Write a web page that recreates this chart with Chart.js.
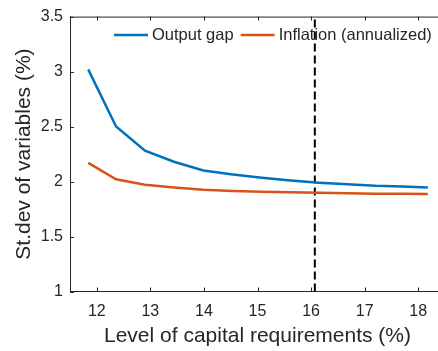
<!DOCTYPE html>
<html>
<head>
<meta charset="utf-8">
<script src="https://cdn.jsdelivr.net/npm/chart.js@4.4.0/dist/chart.umd.min.js"></script>
<style>
  body { margin: 0; overflow: hidden; background: #fff; }
</style>
</head>
<body>
<canvas id="myChart" width="445" height="351"></canvas>
<script>
// capital requirements (%)
const capital = [11.84, 12.36, 12.9, 13.44, 13.99, 14.54, 15.08, 15.62, 16.15, 16.68, 17.2, 17.7, 18.18]
const outputGap = [3.02, 2.50, 2.28, 2.18, 2.10, 2.065, 2.035, 2.01, 1.99, 1.975, 1.962, 1.955, 1.946]
const inflation = [2.17, 2.02, 1.97, 1.945, 1.925, 1.915, 1.907, 1.902, 1.897, 1.893, 1.89, 1.888, 1.886]
const seriesNames = ['Output gap', 'Inflation (annualized)']
const seriesColors = ['#0072BD', '#D95319']
const vlineX = [16.07]
const xTicks = [12, 13, 14, 15, 16, 17, 18]
const yTicks = [1, 1.5, 2, 2.5, 3, 3.5]

const txt = '#262626'
const font = 'Liberation Sans, Arial, Helvetica, sans-serif'

let puntos = function (xs, ys) {
    return xs.map((x, i) => ({ x: x, y: ys[i] }))
}

// MATLAB style box with inward ticks + legend inside the axes
const cajaPlugin = {
    id: 'caja',
    afterDraw(chart) {
        const ctx = chart.ctx
        const a = chart.chartArea
        const sx = chart.scales.x
        const sy = chart.scales.y
        ctx.save()
        ctx.strokeStyle = txt
        ctx.lineWidth = 1
        ctx.beginPath()
        ctx.moveTo(a.left, a.top + 0.5)
        ctx.lineTo(a.right, a.top + 0.5)
        ctx.moveTo(a.right - 0.5, a.top)
        ctx.lineTo(a.right - 0.5, a.bottom)
        xTicks.forEach(v => {
            let px = Math.round(sx.getPixelForValue(v)) + 0.5
            ctx.moveTo(px, a.bottom)
            ctx.lineTo(px, a.bottom - 4)
            ctx.moveTo(px, a.top)
            ctx.lineTo(px, a.top + 4)
        })
        yTicks.forEach(v => {
            let py = Math.round(sy.getPixelForValue(v)) + 0.5
            ctx.moveTo(a.left, py)
            ctx.lineTo(a.left + 4, py)
            ctx.moveTo(a.right, py)
            ctx.lineTo(a.right - 4, py)
        })
        ctx.stroke()

        // legend
        ctx.font = '16.5px ' + font
        ctx.textBaseline = 'middle'
        ctx.fillStyle = txt
        let x = 114
        let y = 35
        seriesNames.forEach((name, i) => {
            ctx.strokeStyle = seriesColors[i]
            ctx.lineWidth = 2.5
            ctx.beginPath()
            ctx.moveTo(x, y)
            ctx.lineTo(x + 34, y)
            ctx.stroke()
            ctx.fillText(name, x + 38, y)
            x = x + 38 + ctx.measureText(name).width + 7
        })
        ctx.restore()
    }
}

const data = {
    datasets: [{
        label: seriesNames[0],
        data: puntos(capital, outputGap),
        borderColor: seriesColors[0],
        borderWidth: 2.5,
        pointRadius: 0,
        tension: 0
    }, {
        label: seriesNames[1],
        data: puntos(capital, inflation),
        borderColor: seriesColors[1],
        borderWidth: 2.5,
        pointRadius: 0,
        tension: 0
    }, {
        label: 'vline',
        data: [{ x: vlineX[0], y: yTicks[0] }, { x: vlineX[0], y: yTicks[yTicks.length - 1] }],
        borderColor: '#000',
        borderWidth: 2,
        borderDash: [8, 4],
        pointRadius: 0
    }]
}

let miGrafico = new Chart('myChart', {
    type: 'line',
    data: data,
    plugins: [cajaPlugin],
    options: {
        responsive: false,
        animation: false,
        layout: { padding: { left: 0, right: 0, top: 11, bottom: 0 } },
        plugins: { legend: { display: false }, tooltip: { enabled: false } },
        scales: {
            x: {
                type: 'linear',
                min: 11.5,
                max: 18.5,
                afterBuildTicks: s => { s.ticks = xTicks.map(v => ({ value: v })) },
                afterFit: s => { s.height = 59.5 },
                grid: { display: false, drawTicks: false },
                border: { display: true, color: txt, width: 1 },
                ticks: { color: txt, font: { family: font, size: 16 }, padding: 10, maxRotation: 0 },
                title: { display: true, text: 'Level of capital requirements (%)', color: txt,
                    font: { family: font, size: 21 }, padding: { top: 0, bottom: 2 } }
            },
            y: {
                min: 1,
                max: 3.5,
                afterBuildTicks: s => { s.ticks = yTicks.map(v => ({ value: v })) },
                afterFit: s => { s.width = 70 },
                grid: { display: false, drawTicks: false },
                border: { display: true, color: txt, width: 1 },
                ticks: { color: txt, font: { family: font, size: 16 }, padding: 7, callback: v => String(v) },
                title: { display: true, text: 'St.dev of variables (%)', color: txt,
                    font: { family: font, size: 21 }, padding: { top: 12, bottom: 0 } }
            }
        }
    }
})
</script>
</body>
</html>
